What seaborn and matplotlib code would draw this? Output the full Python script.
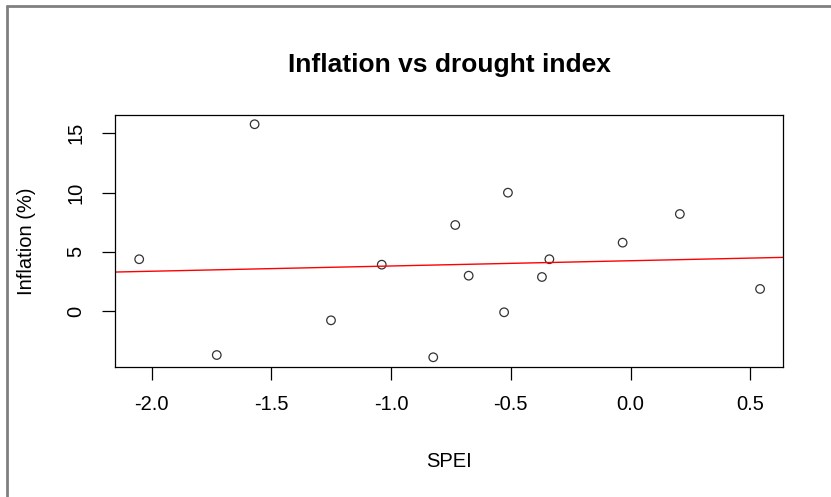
import numpy as np
import pandas as pd
import matplotlib.pyplot as plt
from matplotlib.lines import Line2D
import seaborn as sns

# values
spei = [-2.052, -1.728, -1.570, -1.251, -1.039, -0.824, -0.732, -0.676,
        -0.528, -0.512, -0.370, -0.339, -0.033, 0.206, 0.541]
inflation = [4.37, -3.72, 15.77, -0.79, 3.91, -3.91, 7.26, 2.98,
             -0.11, 9.99, 2.87, 4.37, 5.77, 8.19, 1.86]
x_ticks = [-2.0, -1.5, -1.0, -0.5, 0.0, 0.5]
y_ticks = [0, 5, 10, 15]

df = pd.DataFrame({'SPEI': spei, 'Inflation': inflation})

sns.set_theme(style="white")
plt.rcParams['font.family'] = ['Liberation Sans', 'DejaVu Sans']

fig = plt.figure(figsize=(8.31, 4.97), dpi=100)
ax = fig.add_axes([0.1384, 0.2616, 0.8042, 0.507])
ax.set_xlim(-2.153, 0.638)
ax.set_ylim(-4.73, 16.55)

sns.regplot(data=df, x='SPEI', y='Inflation', ax=ax, ci=None, truncate=False,
            scatter_kws=dict(s=38, facecolors='none', edgecolors='black', linewidths=0.9),
            line_kws=dict(color='red', lw=1.0))

ax.set_xticks(x_ticks)
ax.set_xticklabels([f'{t:.1f}' for t in x_ticks])
ax.set_yticks(y_ticks)
ax.set_yticklabels([str(t) for t in y_ticks], rotation=90, va='center')
ax.tick_params(axis='x', pad=11)
ax.tick_params(axis='y', pad=12)
ax.tick_params(axis='both', direction='out', length=9.4, width=0.9, color='black',
               labelsize=14.5, bottom=True, left=True, labelcolor='black')

for s in ax.spines.values():
    s.set_color('black')
    s.set_linewidth(0.9)

ax.set_xlabel('SPEI', fontsize=14.5, labelpad=27, color='black')
ax.set_ylabel('Inflation (%)', fontsize=14.5, labelpad=22, color='black')
ax.set_title('Inflation vs drought index', fontsize=19, fontweight='bold',
             pad=31, color='black')

# screenshot frame on the top and left
fig.add_artist(Line2D([7 / 831, 7 / 831], [0, 1 - 6 / 497], color='#808080', lw=2))
fig.add_artist(Line2D([7 / 831, 1], [1 - 6 / 497, 1 - 6 / 497], color='#808080', lw=2))

fig.savefig('out.png', dpi=100)
